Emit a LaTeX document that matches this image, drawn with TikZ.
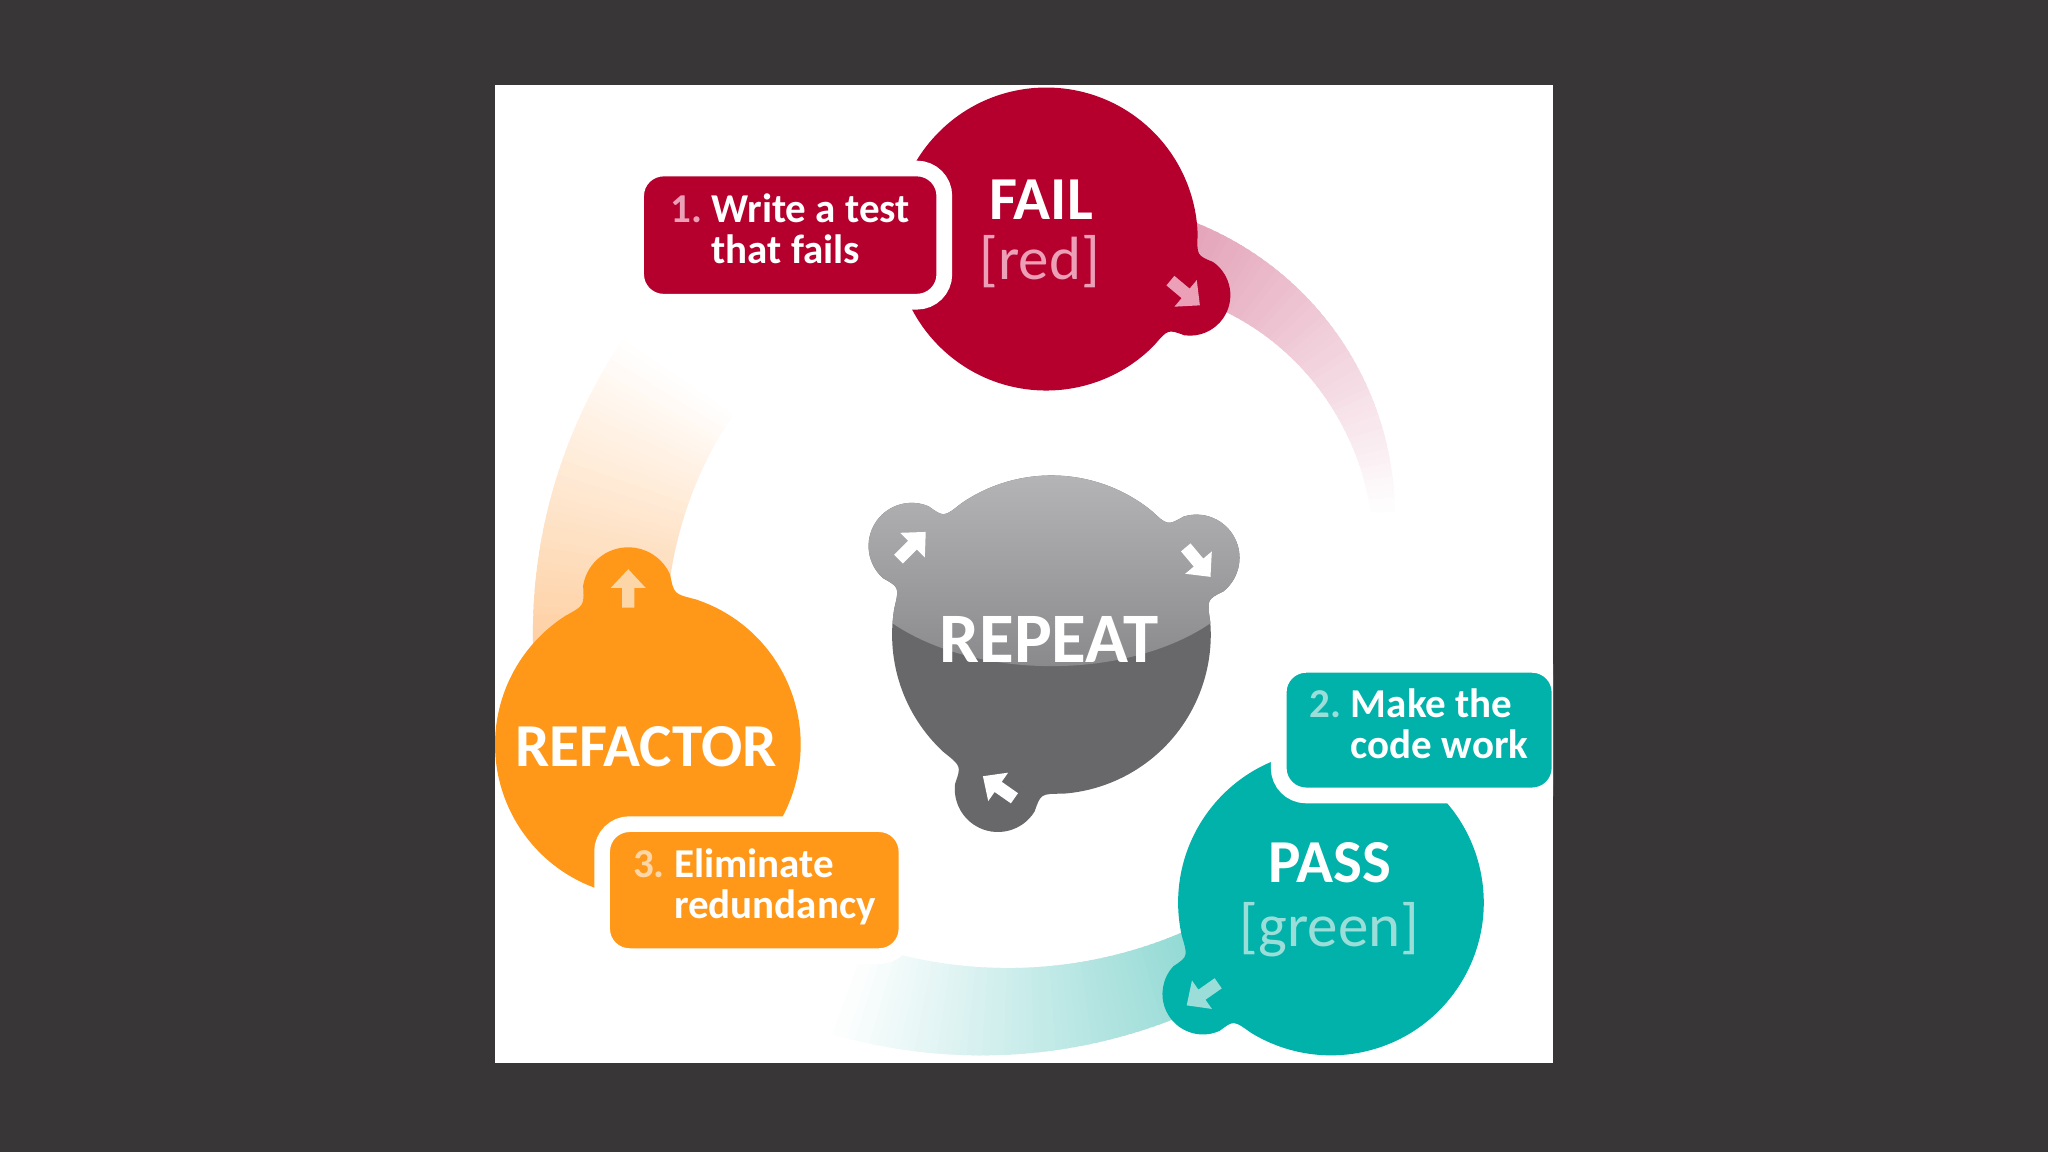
\documentclass[tikz,border=0pt]{standalone}
\usepackage{fontspec}
\setmainfont{Carlito}
\usetikzlibrary{calc}
\definecolor{bgdark}{RGB}{57,54,56}
\definecolor{failred}{RGB}{181,0,46}
\definecolor{passteal}{RGB}{0,178,169}
\definecolor{refor}{RGB}{255,152,25}
\definecolor{gdark}{RGB}{104,103,105}
\definecolor{gtop}{RGB}{192,191,193}
\definecolor{gmid}{RGB}{138,137,139}
\definecolor{pinkband}{RGB}{224,150,175}
\definecolor{tealband}{RGB}{132,212,207}
\definecolor{orband}{RGB}{254,190,128}
\definecolor{redsoft}{RGB}{236,160,184}
\definecolor{tealsoft}{RGB}{155,222,217}
\definecolor{orsoft}{RGB}{253,214,168}

% fillet + bump + fillet, from the main circle point before the bump
% #1 cx #2 cy #3 R #4 bx #5 by #6 r #7 phi #8 alpha #9 beta
\newcommand{\bumpseg}[9]{%
 .. controls ([shift={(#1,#2)}]{#7-#8}:#3) .. ([shift={(#4,#5)}]{#7+180+#9+25}:#6)
 arc[start angle={#7+180+#9+25}, end angle={#7+540-#9-25}, radius=#6]
 .. controls ([shift={(#1,#2)}]{#7+#8}:#3) .. ([shift={(#1,#2)}]{#7+#8+8}:#3)}

% fading band: #1 cx #2 cy #3 a0 #4 a1 #5 rin0 #6 rin1 #7 rout0 #8 rout1 #9 colour
\newcommand{\fadeband}[9]{%
 \foreach \i in {0,...,59}{%
  \pgfmathsetmacro{\fbTa}{\i/60}%
  \pgfmathsetmacro{\fbTb}{min(1,(\i+1.6)/60)}%
  \pgfmathsetmacro{\fbA}{#3+\fbTa*(#4-#3)}%
  \pgfmathsetmacro{\fbB}{#3+\fbTb*(#4-#3)}%
  \pgfmathsetmacro{\fbRia}{#5+\fbTa*(#6-#5)}%
  \pgfmathsetmacro{\fbRib}{#5+\fbTb*(#6-#5)}%
  \pgfmathsetmacro{\fbRoa}{#7+\fbTa*(#8-#7)}%
  \pgfmathsetmacro{\fbRob}{#7+\fbTb*(#8-#7)}%
  \pgfmathtruncatemacro{\fbPc}{round(100*(1-\fbTa))}%
  \fill[#9!\fbPc!white] ([shift={(#1,#2)}]\fbA:\fbRia) -- ([shift={(#1,#2)}]\fbA:\fbRoa)
     -- ([shift={(#1,#2)}]\fbB:\fbRob) -- ([shift={(#1,#2)}]\fbB:\fbRib) -- cycle;
 }}

\tikzset{
 title/.style={text=white, anchor=base, inner sep=0pt, font=\fontsize{30.5}{36}\selectfont\bfseries},
 subtitle/.style={anchor=base, inner sep=0pt, font=\fontsize{30.5}{36}\selectfont},
 lbl/.style={rectangle, rounded corners=13.7pt, draw=white, line width=7.84pt, text=white,
   inner sep=0pt, font=\fontsize{20.5}{20.3}\selectfont\bfseries},
 barrow/.pic={\fill (-15,-5) -- (1,-5) -- (1,-14) -- (16,0) -- (1,14) -- (1,5) -- (-15,5) -- cycle;}
}

\begin{document}
\begin{tikzpicture}[x=0.653061pt, y=-0.653061pt]
\fill[bgdark] (0,0) rectangle (1568,882);
\fill[white] (379,65) rectangle (1189,814);
\begin{scope}
\clip (379,65) rectangle (1189,814);

% fading bands
\fadeband{830}{400}{-80}{-2}{183}{220}{246}{238}{pinkband}
\fadeband{780}{400}{62}{110}{337}{344}{393}{417}{tealband}
\fadeband{810}{485}{165}{214}{300}{300}{402}{402}{orband}

% FAIL blob
\fill[failred] ([shift={(801,183)}]{21.35-15.18-8}:116)
  \bumpseg{801}{183}{116}{911}{226}{31}{21.35}{15.18}{78.55}
  arc[start angle={21.35+15.18+8}, end angle={21.35-15.18-8+360}, radius=116] -- cycle;

% REFACTOR blob
\fill[refor] ([shift={(496,570)}]{-97.37-17.23-8}:117)
  \bumpseg{496}{570}{117}{481}{454}{35}{-97.37}{17.23}{81.45}
  arc[start angle={-97.37+17.23+8}, end angle={-97.37-17.23-8+360}, radius=117] -- cycle;

% PASS blob
\fill[passteal] ([shift={(1019,691)}]{144.46-14.87-8}:117)
  \bumpseg{1019}{691}{117}{921}{761}{31}{144.46}{14.87}{76.24}
  arc[start angle={144.46+14.87+8}, end angle={144.46-14.87-8+360}, radius=117] -- cycle;

% REPEAT blob
\begin{scope}
\clip ([shift={(805,486)}]{-147.56-15.09-8}:122)
  \bumpseg{805}{486}{122}{698}{418}{33}{-147.56}{15.09}{74.20}
  arc[start angle={-147.56+15.09+8}, end angle={-27.99-15.23-8}, radius=122]
  \bumpseg{805}{486}{122}{916}{427}{33}{-27.99}{15.23}{76.00}
  arc[start angle={-27.99+15.23+8}, end angle={109.16-15.31-8}, radius=122]
  \bumpseg{805}{486}{122}{764}{604}{33}{109.16}{15.31}{77.32}
  arc[start angle={109.16+15.31+8}, end angle={-147.56-15.09-8+360}, radius=122] -- cycle;
\fill[gdark] (640,350) rectangle (970,650);
\shade[top color=gtop, bottom color=gmid] (805,416.5) ellipse[x radius=160, y radius=93.5];
\end{scope}

% arrows in the bumps
\pic[rotate=-40, redsoft, scale=0.95] at (907,224) {barrow};
\pic[rotate=90, orsoft, scale=0.95] at (481,451) {barrow};
\pic[rotate=-145, tealsoft, scale=0.95] at (921,761) {barrow};
\pic[rotate=45, white, scale=0.95] at (698,418) {barrow};
\pic[rotate=-50, white, scale=0.95] at (917,430) {barrow};
\pic[rotate=145, white, scale=0.95] at (765,603) {barrow};

% label boxes
\node[lbl, fill=failred, minimum width=154.1pt, minimum height=66.6pt] (box1) at (605,180)
  {\textcolor{redsoft}{1.}\ \begin{tabular}[t]{@{}l@{}}Write a test\\that fails\end{tabular}};
\node[lbl, fill=passteal, minimum width=140.4pt, minimum height=65.3pt] (box2) at (1086.5,559)
  {\textcolor{tealsoft}{2.}\ \begin{tabular}[t]{@{}l@{}}Make the\\code work\end{tabular}};
\node[lbl, fill=refor, minimum width=152.2pt, minimum height=66pt] (box3) at (577.5,681.5)
  {\textcolor{orsoft}{3.}\ \begin{tabular}[t]{@{}l@{}}Eliminate\\redundancy\end{tabular}};

% titles
\node[title] (failt) at (797,168) {FAIL};
\node[subtitle, text=redsoft] (failsub) at (796,214) {[red]};
\node[title] (passt) at (1018,676) {PASS};
\node[subtitle, text=tealsoft] (passsub) at (1018,725) {[green]};
\node[title] (reft) at (494.5,587) {REFACTOR};
\node[title, font=\fontsize{35.5}{40}\selectfont\bfseries] (rept) at (803,507) {REPEAT};
\end{scope}
\end{tikzpicture}
\end{document}
